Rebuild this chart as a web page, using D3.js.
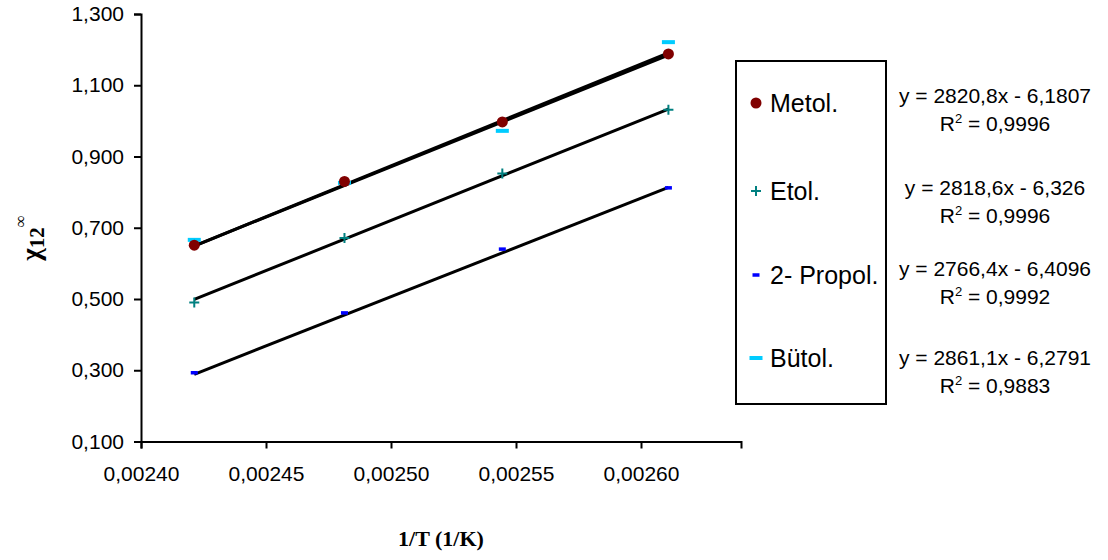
<!DOCTYPE html>
<html>
<head>
<meta charset="utf-8">
<script src="https://cdn.jsdelivr.net/npm/d3@7"></script>
<style>
  html, body { margin: 0; padding: 0; background: #fff; }
  svg { display: block; }
</style>
</head>
<body>
<svg id="chart" width="1108" height="560"></svg>
<script>
// Inverse temperatures (1/K) for 413, 403, 393 and 383 K
const invT = [1 / 413, 1 / 403, 1 / 393, 1 / 383];

// Activity coefficients at infinite dilution, one array per solvent
const seriesNames = ["Metol.", "Etol.", "2- Propol.", "Bütol."];
const metol  = [0.651, 0.830, 0.997, 1.188];
const etol   = [0.490, 0.671, 0.852, 1.031];
const propol = [0.293, 0.461, 0.640, 0.812];
const butol  = [0.666, 0.826, 0.972, 1.221];

// Linear fits y = a·x + b with their R²
const slopes     = [2820.8, 2818.6, 2766.4, 2861.1];
const intercepts = [-6.1807, -6.326, -6.4096, -6.2791];
const rSquared   = [0.9996, 0.9996, 0.9992, 0.9883];

// Axis ticks
const xTicks = [0.00240, 0.00245, 0.00250, 0.00255, 0.00260];
const yTicks = [0.100, 0.300, 0.500, 0.700, 0.900, 1.100, 1.300];

const seriesValues = [metol, etol, propol, butol];
const colors = ["#800000", "#008080", "#0000ff", "#00ccff"];
const shapes = ["circle", "plus", "smallDash", "wideDash"];

const svg = d3.select("#chart");
const plot = { left: 141, right: 741, top: 14, bottom: 441.5 };

const x = d3.scaleLinear().domain([0.00240, 0.00264]).range([plot.left, plot.right]);
const y = d3.scaleLinear().domain([0.100, 1.300]).range([plot.bottom, plot.top]);

const comma = s => s.replace(".", ",");
const sans = "'Liberation Sans', Arial, sans-serif";
const serif = "'Liberation Serif', 'Times New Roman', serif";

// Axes
const xAxis = d3.axisBottom(x).tickValues(xTicks).tickSizeOuter(0).tickSize(7)
  .tickFormat(d => comma(d3.format(".5f")(d)));
const yAxis = d3.axisLeft(y).tickValues(yTicks).tickSizeOuter(0).tickSize(7)
  .tickFormat(d => comma(d3.format(".3f")(d)));

const gx = svg.append("g").attr("transform", `translate(0,${plot.bottom})`).call(xAxis);
const gy = svg.append("g").attr("transform", `translate(${plot.left},0)`).call(yAxis);

[gx, gy].forEach(g => {
  g.select(".domain").attr("stroke", "#000").attr("stroke-width", 2);
  g.selectAll(".tick line").attr("stroke", "#000").attr("stroke-width", 2);
  g.selectAll(".tick text").attr("fill", "#000")
    .style("font-family", sans).style("font-size", "21px");
});
gx.selectAll(".tick text").attr("dy", "1.42em");
gy.selectAll(".tick text").attr("x", -17);

// Axis titles
svg.append("text")
  .attr("x", (plot.left + plot.right) / 2).attr("y", 546)
  .attr("text-anchor", "middle")
  .style("font-family", serif).style("font-size", "22px").style("font-weight", "bold")
  .text("1/T (1/K)");

const yTitle = svg.append("text")
  .attr("transform", "translate(40,238) rotate(-90)")
  .attr("text-anchor", "middle")
  .style("font-family", serif).style("font-weight", "bold");
yTitle.append("tspan").style("font-size", "27px").text("χ");
yTitle.append("tspan").attr("dy", 4).style("font-size", "21px").text("12");
yTitle.append("tspan").attr("dy", -18).style("font-size", "17px").style("font-weight", "normal").text("∞");

// Trendlines from the fitted equations over the measured range
const xExtent = d3.extent(invT);
const line = d3.line().x(d => x(d[0])).y(d => y(d[1]));
svg.append("g").selectAll("path")
  .data(slopes.map((a, i) => xExtent.map(v => [v, a * v + intercepts[i]])))
  .join("path")
  .attr("d", line)
  .attr("fill", "none")
  .attr("stroke", "#000")
  .attr("stroke-width", 3);

// Marker drawing
function drawMarker(g, shape, color) {
  if (shape === "circle") {
    g.append("circle").attr("r", 5.5).attr("fill", color);
  } else if (shape === "plus") {
    g.append("path").attr("d", "M-5,0H5M0,-5V5")
      .attr("stroke", color).attr("stroke-width", 2).attr("fill", "none");
  } else if (shape === "smallDash") {
    g.append("rect").attr("x", -3.5).attr("y", -1.75).attr("width", 7).attr("height", 3.5).attr("fill", color);
  } else {
    g.append("rect").attr("x", -6.5).attr("y", -2).attr("width", 13).attr("height", 4).attr("fill", color);
  }
}

// Data points (drawn in order so later series sit on top)
const order = [3, 0, 1, 2];
order.forEach(i => {
  const g = svg.append("g");
  seriesValues[i].forEach((v, j) => {
    const m = g.append("g").attr("transform", `translate(${x(invT[j])},${y(v)})`);
    drawMarker(m, shapes[i], colors[i]);
  });
});

// Legend
const legend = svg.append("g");
legend.append("rect")
  .attr("x", 736).attr("y", 61).attr("width", 150).attr("height", 343)
  .attr("fill", "#fff").attr("stroke", "#000").attr("stroke-width", 2);

const legendY = [103, 191, 275, 358];
seriesNames.forEach((name, i) => {
  const m = legend.append("g").attr("transform", `translate(756,${legendY[i]})`);
  drawMarker(m, shapes[i], colors[i]);
  legend.append("text")
    .attr("x", 770).attr("y", legendY[i]).attr("dy", "0.36em")
    .style("font-family", sans).style("font-size", "25px")
    .text(name);
});

// Fit equations beside the legend
const eqY = [95, 187, 268, 357];
const eq = svg.append("g").style("font-family", sans).style("font-size", "21px");
slopes.forEach((a, i) => {
  const b = intercepts[i];
  eq.append("text")
    .attr("x", 995).attr("y", eqY[i]).attr("dy", "0.36em")
    .attr("text-anchor", "middle")
    .text(`y = ${comma(String(a))}x ${b < 0 ? "-" : "+"} ${comma(String(Math.abs(b)))}`);
  const r = eq.append("text")
    .attr("x", 995).attr("y", eqY[i] + 28).attr("dy", "0.36em")
    .attr("text-anchor", "middle");
  r.append("tspan").text("R");
  r.append("tspan").attr("dy", -8).style("font-size", "13px").text("2");
  r.append("tspan").attr("dy", 8).text(` = ${comma(String(rSquared[i]))}`);
});
</script>
</body>
</html>
